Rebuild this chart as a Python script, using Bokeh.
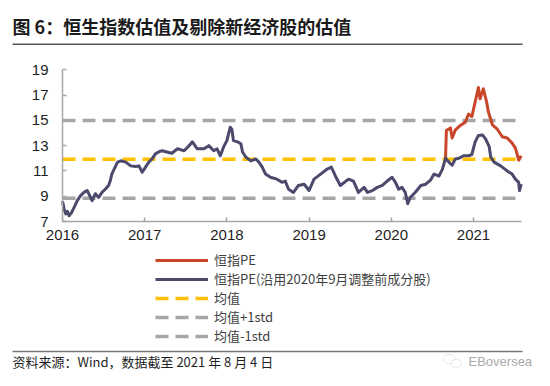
from bokeh.plotting import figure
from bokeh.models import (Range1d, FixedTicker, Label, BoxAnnotation, Legend, LegendItem,
                          LinearAxis)
from bokeh.embed import file_html
from bokeh.resources import INLINE

# ---------------- data ----------------
TITLE = "图 6：恒生指数估值及剔除新经济股的估值"
SOURCE_NOTE = "资料来源：Wind，数据截至 2021 年 8 月 4 日"
WATERMARK = "EBoversea"

year_ticks = [2016, 2017, 2018, 2019, 2020, 2021]
pe_ticks = [7, 9, 11, 13, 15, 17, 19]
x_bounds = (2016, 2021.584)
y_bounds = (7, 19)

# 恒指PE(沿用2020年9月调整前成分股)  (decimal year, PE)
old_t = [2016.00, 2016.02, 2016.04, 2016.06, 2016.08, 2016.11, 2016.14, 2016.18, 2016.22, 2016.26,
         2016.30, 2016.32, 2016.36, 2016.40, 2016.44, 2016.48, 2016.52, 2016.56, 2016.58, 2016.60,
         2016.64, 2016.67, 2016.71, 2016.77, 2016.83, 2016.89, 2016.93, 2016.97, 2017.01, 2017.05,
         2017.09, 2017.13, 2017.17, 2017.21, 2017.27, 2017.33, 2017.40, 2017.48, 2017.54, 2017.58,
         2017.64, 2017.72, 2017.78, 2017.84, 2017.88, 2017.92, 2017.96, 2018.00, 2018.04, 2018.06,
         2018.08, 2018.13, 2018.17, 2018.19, 2018.23, 2018.29, 2018.35, 2018.39, 2018.43, 2018.47,
         2018.53, 2018.61, 2018.67, 2018.71, 2018.75, 2018.81, 2018.87, 2018.94, 2019.00, 2019.06,
         2019.14, 2019.22, 2019.27, 2019.32, 2019.38, 2019.48, 2019.54, 2019.60, 2019.67, 2019.71,
         2019.77, 2019.83, 2019.89, 2019.95, 2020.01, 2020.05, 2020.09, 2020.13, 2020.17, 2020.20,
         2020.23, 2020.29, 2020.36, 2020.42, 2020.48, 2020.52, 2020.58, 2020.62, 2020.66, 2020.70,
         2020.74, 2020.78, 2020.82, 2020.88, 2020.94, 2020.98, 2021.02, 2021.06, 2021.11, 2021.15,
         2021.19, 2021.21, 2021.25, 2021.33, 2021.41, 2021.47, 2021.51, 2021.55, 2021.56, 2021.58]
old_pe = [8.6, 8.0, 7.6, 7.8, 7.45, 7.7, 8.1, 8.65, 9.05, 9.3,
          9.45, 9.2, 8.65, 9.2, 8.9, 9.3, 9.55, 9.85, 10.2, 10.75,
          11.3, 11.7, 11.8, 11.7, 11.4, 11.35, 11.4, 10.9, 11.3, 11.7,
          11.95, 12.35, 12.5, 12.6, 12.5, 12.4, 12.75, 12.6, 13.0, 13.3,
          12.75, 12.75, 13.0, 12.6, 12.75, 12.2, 12.9, 13.4, 14.45, 14.3,
          13.4, 13.3, 13.15, 12.5, 12.1, 11.8, 11.95, 11.7, 11.3, 10.75,
          10.5, 10.35, 10.1, 10.2, 9.55, 9.3, 9.85, 9.95, 9.45, 10.35,
          10.75, 11.15, 11.3, 10.6, 9.85, 10.35, 10.2, 9.3, 9.7, 9.3,
          9.45, 9.7, 9.85, 10.2, 10.5, 10.1, 9.55, 9.7, 9.3, 8.4,
          8.9, 9.3, 9.85, 9.95, 10.3, 10.75, 10.6, 11.1, 12.0, 11.7,
          11.45, 11.95, 12.0, 12.2, 12.2, 12.3, 13.3, 13.8, 13.85, 13.5,
          12.95, 12.1, 11.7, 11.4, 11.0, 10.75, 10.35, 10.1, 9.45, 9.95]

# 恒指PE
hsi_t = [2020.66, 2020.67, 2020.72, 2020.74, 2020.78, 2020.84, 2020.90, 2020.94, 2020.98, 2021.02,
         2021.06, 2021.08, 2021.12, 2021.16, 2021.18, 2021.23, 2021.29, 2021.35, 2021.41, 2021.47,
         2021.51, 2021.55, 2021.58]
hsi_pe = [12.0, 14.2, 14.4, 13.6, 14.25, 14.6, 14.85, 15.5, 15.3, 16.45,
          17.6, 16.7, 17.5, 16.45, 15.7, 14.65, 14.3, 13.7, 13.6, 13.2,
          12.8, 11.85, 12.2]

mean_pe = 11.92
mean_plus_1std = 14.98
mean_minus_1std = 8.83

series_names = ["恒指PE", "恒指PE(沿用2020年9月调整前成分股)", "均值", "均值+1std", "均值-1std"]
series_colors = ["#C8462A", "#4B4A6C", "#FFC000", "#A6A6A6", "#A6A6A6"]

# ---------------- layout (pixels) ----------------
CJK = "Noto Sans CJK SC"
LAT = "Liberation Sans"
LINE_W = 3
DASH_W = 3.5
DASH = "13 7"

FIG_W, FIG_H = 534, 370
PLOT_L, PLOT_R = 62.0, 521.0      # pixel x of x_bounds
PLOT_T, PLOT_B = 69.3, 221.0      # pixel y of y_bounds (top = 19, bottom = 7)

# frame covers the whole canvas; the data ranges are set so the chart area lands at PLOT_*
sx = (x_bounds[1] - x_bounds[0]) / (PLOT_R - PLOT_L)
sy = (y_bounds[1] - y_bounds[0]) / (PLOT_B - PLOT_T)
x_range = Range1d(x_bounds[0] - PLOT_L * sx, x_bounds[0] + (FIG_W - PLOT_L) * sx)
y_range = Range1d(y_bounds[0] - (FIG_H - PLOT_B) * sy, y_bounds[1] + PLOT_T * sy)


def ry(y_px):
    # pixel from top -> screen units from frame bottom
    return FIG_H - y_px


p = figure(width=FIG_W, height=FIG_H, x_range=x_range, y_range=y_range,
           output_backend="svg", toolbar_location=None, min_border=0,
           x_axis_location=None, y_axis_location=None)
p.outline_line_color = None
p.grid.visible = False
p.background_fill_color = "white"
p.border_fill_color = "white"

t_span = [old_t[0], old_t[-1]]
r_p1 = p.line(t_span, [mean_plus_1std] * 2, line_color=series_colors[3], line_width=DASH_W, line_dash=DASH)
r_m1 = p.line(t_span, [mean_minus_1std] * 2, line_color=series_colors[4], line_width=DASH_W, line_dash=DASH)
r_mean = p.line(t_span, [mean_pe] * 2, line_color=series_colors[2], line_width=DASH_W, line_dash=DASH)
r_hsi = p.line(hsi_t, hsi_pe, line_color=series_colors[0], line_width=LINE_W, line_join="round")
r_old = p.line(old_t, old_pe, line_color=series_colors[1], line_width=LINE_W, line_join="round")

xaxis = LinearAxis(fixed_location=y_bounds[0], bounds=x_bounds, ticker=FixedTicker(ticks=year_ticks),
                   major_label_overrides={y: str(y) for y in year_ticks}, major_label_standoff=8)
yaxis = LinearAxis(fixed_location=x_bounds[0], bounds=y_bounds, ticker=FixedTicker(ticks=pe_ticks),
                   major_label_standoff=14)
for ax in (xaxis, yaxis):
    ax.axis_line_color = "#A6A6A6"
    ax.axis_line_width = 1.5
    ax.major_tick_line_color = "#A6A6A6"
    ax.major_tick_line_width = 1.5
    ax.major_tick_in = 4
    ax.major_tick_out = 0
    ax.minor_tick_line_color = None
    ax.major_label_text_font = LAT
    ax.major_label_text_font_size = "15px"
    ax.major_label_text_color = "#1f1f1f"
p.add_layout(xaxis, "below")
p.add_layout(yaxis, "left")

# ---------------- legend ----------------
ROW_H = 18
LEG_X, LEG_TOP = 155, 255
legend = Legend(
    items=[LegendItem(label=n, renderers=[r]) for n, r in
           zip(series_names, [r_hsi, r_old, r_mean, r_p1, r_m1])],
    location=(LEG_X, ry(LEG_TOP) - ROW_H * len(series_names)),
    orientation="vertical", glyph_width=53, glyph_height=ROW_H, label_height=ROW_H,
    label_standoff=6, spacing=0, padding=0, margin=0,
    border_line_color=None, background_fill_alpha=0,
    label_text_font=CJK, label_text_font_size="13px", label_text_color="#3f3f3f",
)
p.add_layout(legend)


def hbar(x0, x1, y0, y1, color, **kw):
    return BoxAnnotation(left=x0, right=x1, top=ry(y0), bottom=ry(y1),
                         left_units="screen", right_units="screen", top_units="screen",
                         bottom_units="screen", fill_color=color, fill_alpha=1,
                         line_color=None, **kw)


# ---------------- title / footer ----------------
FOOT_Y = 360.5
p.add_layout(Label(x=12, y=ry(25), x_units="screen", y_units="screen", text=TITLE,
                   text_font=CJK, text_font_size="18px", text_font_style="bold",
                   text_color="#1a1a1a", text_baseline="middle", text_align="left"))
p.add_layout(hbar(12, 522, 43, 44.5, "#555555"))
p.add_layout(hbar(12, 522, 350.25, 351.75, "#777777"))
p.add_layout(Label(x=12, y=ry(FOOT_Y), x_units="screen", y_units="screen", text=SOURCE_NOTE,
                   text_font=CJK, text_font_size="13px", text_color="#1f1f1f",
                   text_baseline="middle", text_align="left"))
# watermark: chat-bubble icon + text
for l, r, t, b in [(443, 455, 354, 363), (451, 461, 359, 367)]:
    p.add_layout(BoxAnnotation(left=l, right=r, top=ry(t), bottom=ry(b),
                               left_units="screen", right_units="screen", top_units="screen",
                               bottom_units="screen", fill_color="white", fill_alpha=1,
                               line_color="#BBBBBB", line_width=1, border_radius=5))
p.add_layout(Label(x=468, y=ry(FOOT_Y), x_units="screen", y_units="screen", text=WATERMARK,
                   text_font=LAT, text_font_size="13px", text_color="#AAAAAA",
                   text_baseline="middle", text_align="left"))

open("out.html", "w").write(file_html(p, INLINE))
